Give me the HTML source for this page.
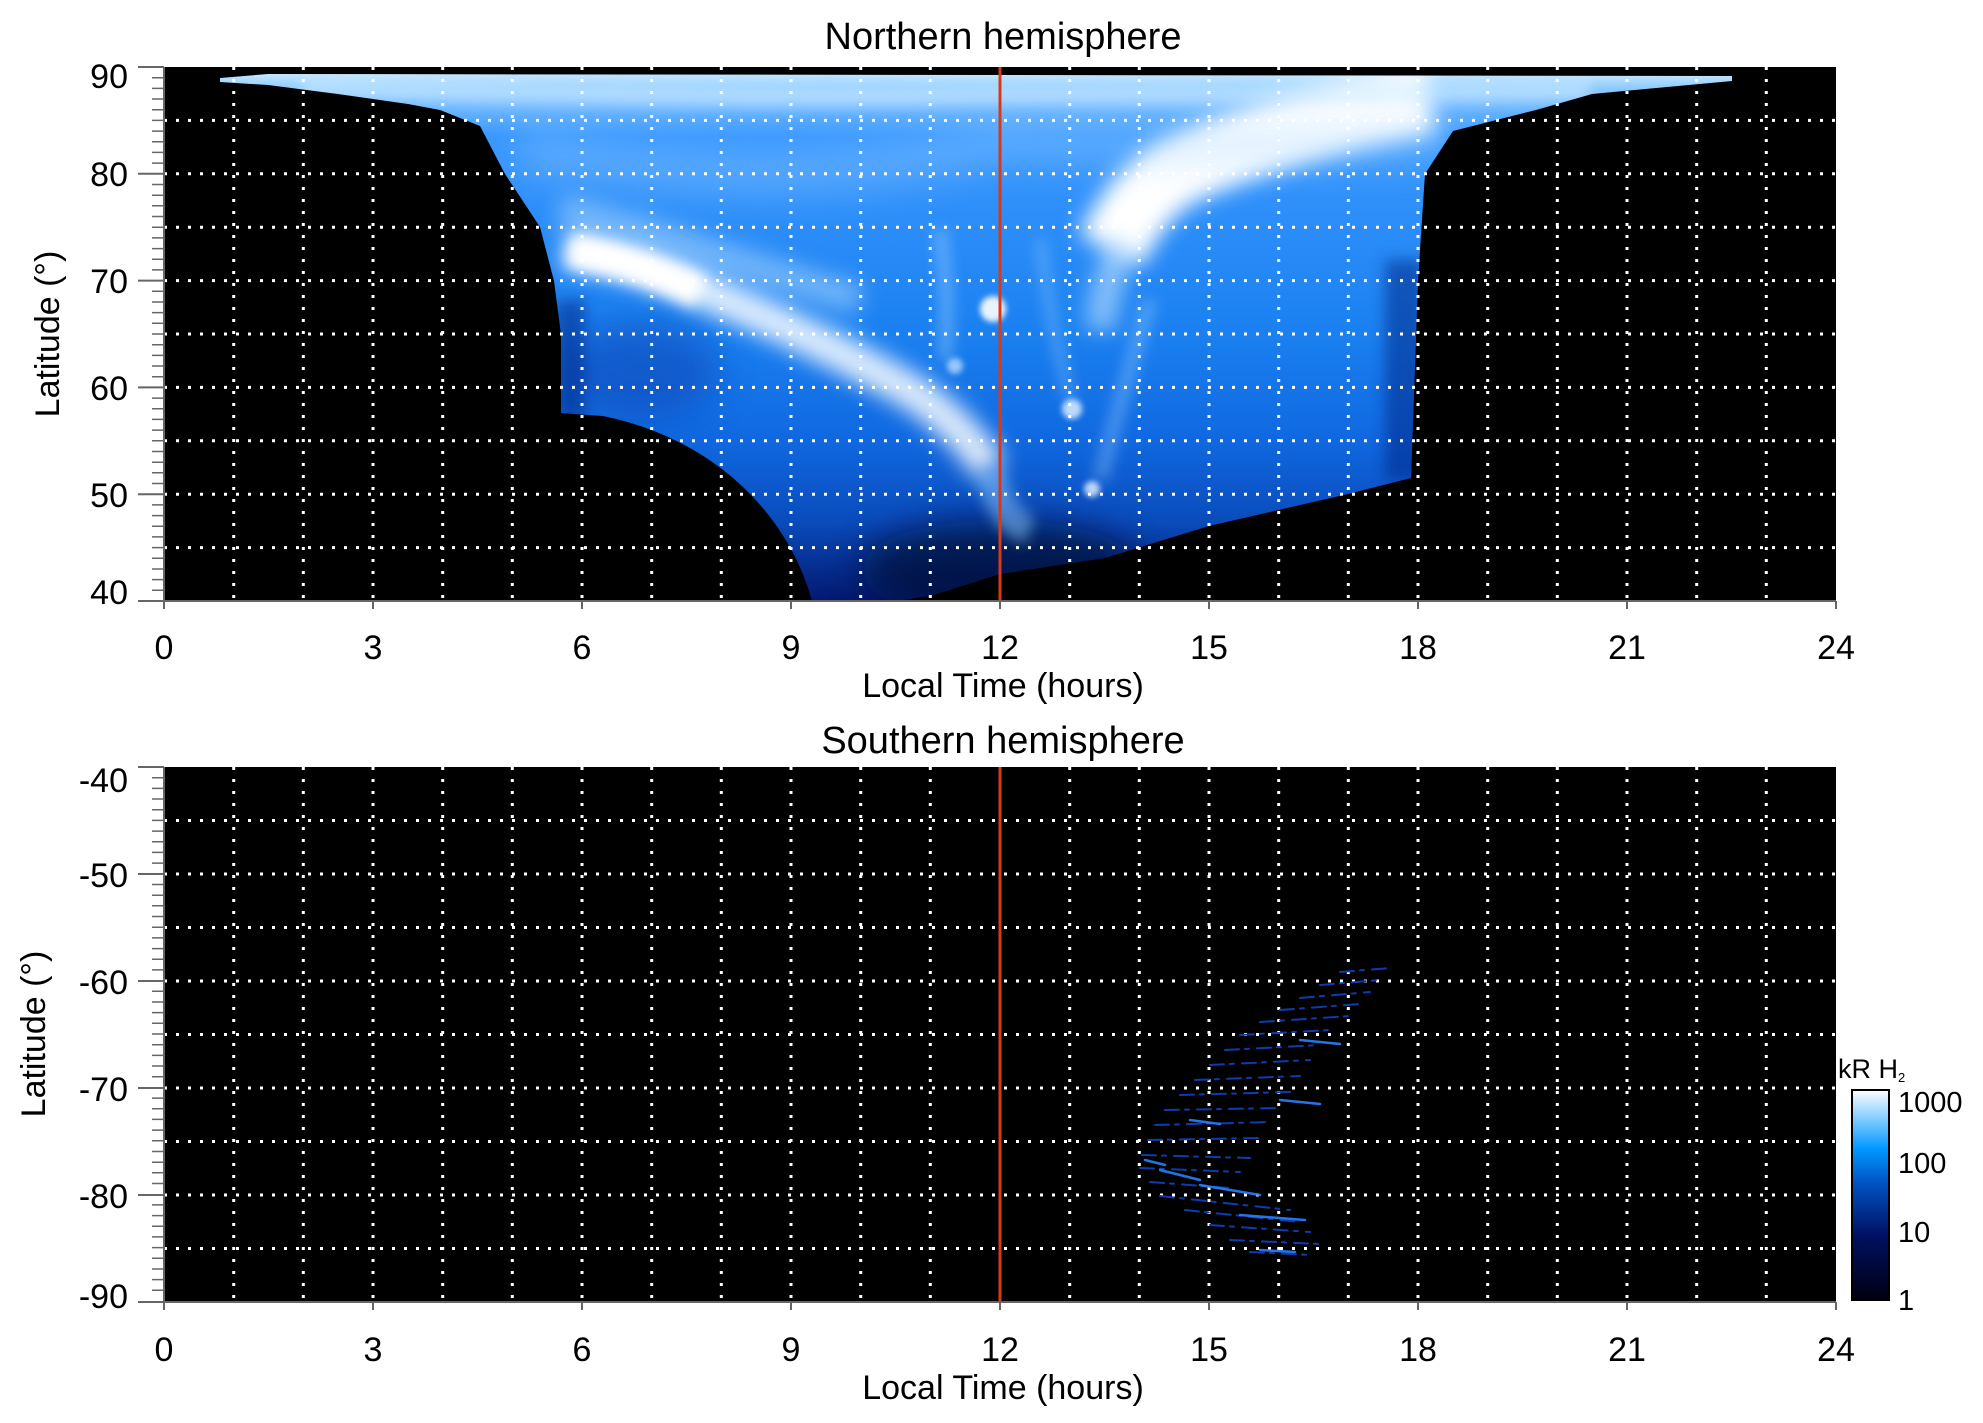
<!DOCTYPE html>
<html><head><meta charset="utf-8"><style>
html,body{margin:0;padding:0;background:#fff;}
svg{display:block;font-family:"Liberation Sans",Arial,sans-serif;}
</style></head><body>
<svg width="1983" height="1423" viewBox="0 0 1983 1423" xmlns="http://www.w3.org/2000/svg">
<defs>
<linearGradient id="baseN" gradientUnits="userSpaceOnUse" x1="0" y1="67" x2="0" y2="601">
<stop offset="0" stop-color="#e0f4ff"/>
<stop offset="0.04" stop-color="#8ccaff"/>
<stop offset="0.13" stop-color="#3a98ff"/>
<stop offset="0.5" stop-color="#1a80f0"/>
<stop offset="0.7" stop-color="#1068e0"/>
<stop offset="0.85" stop-color="#0a4cbc"/>
<stop offset="1" stop-color="#031870"/>
</linearGradient>
<linearGradient id="cb" x1="0" y1="1" x2="0" y2="0">
<stop offset="0" stop-color="#000010"/>
<stop offset="0.3" stop-color="#001060"/>
<stop offset="0.55" stop-color="#0050c0"/>
<stop offset="0.72" stop-color="#0098ff"/>
<stop offset="1" stop-color="#ffffff"/>
</linearGradient>
<filter id="b20" filterUnits="userSpaceOnUse" x="0" y="0" width="1983" height="1423"><feGaussianBlur stdDeviation="18"/></filter>
<filter id="b12" filterUnits="userSpaceOnUse" x="0" y="0" width="1983" height="1423"><feGaussianBlur stdDeviation="11"/></filter>
<filter id="b8" filterUnits="userSpaceOnUse" x="0" y="0" width="1983" height="1423"><feGaussianBlur stdDeviation="7"/></filter>
<filter id="b3" filterUnits="userSpaceOnUse" x="0" y="0" width="1983" height="1423"><feGaussianBlur stdDeviation="3"/></filter>
<clipPath id="cN"><path d="M220,78 L268,74 L1732,76 L1732,81 L1592,94 L1536,110 L1453,131 L1425,174 L1418,281 L1411,478 L1348,494 L1209,526 L1105,558 L1000,574 L930,596 L896,601 L812,601 C790,520 720,440 603,416 L561,413 L561,334 L554,281 L540,227 L505,174 L480,126 L440,110 L408,104 L338,94 L268,85 L220,82 Z"/></clipPath>
</defs>

<!-- Northern plot -->
<rect x="164" y="67" width="1672" height="534" fill="#000"/>
<g clip-path="url(#cN)">
<rect x="164" y="67" width="1672" height="534" fill="url(#baseN)"/>
<ellipse cx="1000" cy="570" rx="140" ry="50" fill="#000830" opacity="0.7" filter="url(#b20)"/>
<ellipse cx="640" cy="370" rx="80" ry="50" fill="#0840b0" opacity="0.5" filter="url(#b20)"/>
<path d="M560,210 Q640,230 700,250 T860,300" stroke="#bfe3ff" stroke-width="30" fill="none" opacity="0.5" filter="url(#b12)"/>
<path d="M565,250 Q640,262 700,290 Q800,330 900,385 Q960,420 990,470" stroke="#ffffff" stroke-width="36" fill="none" opacity="0.85" filter="url(#b12)"/>
<path d="M570,250 Q640,262 700,292" stroke="#ffffff" stroke-width="32" fill="none" filter="url(#b8)"/>
<path d="M990,470 Q1000,520 1030,530" stroke="#8fcaff" stroke-width="30" fill="none" opacity="0.5" filter="url(#b8)"/>
<path d="M1111,250 Q1140,190 1180,170 Q1280,125 1430,100" stroke="#ffffff" stroke-width="70" fill="none" filter="url(#b12)"/>
<path d="M1100,330 Q1105,280 1125,240" stroke="#cde9ff" stroke-width="30" fill="none" opacity="0.6" filter="url(#b12)"/>
<path d="M300,88 Q800,100 1000,95 Q1300,95 1590,90" stroke="#d0ecff" stroke-width="20" fill="none" opacity="0.6" filter="url(#b8)"/>
<path d="M520,150 Q800,200 1000,140 Q1200,150 1450,140" stroke="#a0d4ff" stroke-width="40" fill="none" opacity="0.35" filter="url(#b20)"/>
<circle cx="993" cy="309" r="13" fill="#fff" opacity="0.9" filter="url(#b3)"/>
<circle cx="1072" cy="409" r="10" fill="#eaf6ff" opacity="0.8" filter="url(#b3)"/>
<circle cx="1092" cy="489" r="8" fill="#eaf6ff" opacity="0.8" filter="url(#b3)"/>
<circle cx="955" cy="366" r="8" fill="#cfe8ff" opacity="0.7" filter="url(#b3)"/>
<path d="M940,230 Q950,300 945,360" stroke="#9fd0ff" stroke-width="12" fill="none" opacity="0.5" filter="url(#b8)"/>
<path d="M1040,240 Q1050,320 1070,400" stroke="#9fd0ff" stroke-width="10" fill="none" opacity="0.4" filter="url(#b8)"/>
<path d="M1150,300 Q1120,400 1100,480" stroke="#9fd0ff" stroke-width="14" fill="none" opacity="0.4" filter="url(#b8)"/>
<rect x="1385" y="260" width="40" height="220" fill="#002080" opacity="0.5" filter="url(#b8)"/>
<rect x="555" y="300" width="30" height="120" fill="#002080" opacity="0.5" filter="url(#b8)"/>
</g>
<g stroke="#fff" stroke-width="3" stroke-dasharray="3 9" fill="none">
<path d="M164,120.4H1836M164,173.8H1836M164,227.2H1836M164,280.6H1836M164,334H1836M164,387.4H1836M164,440.8H1836M164,494.2H1836M164,547.6H1836"/>
<path d="M233.7,67V601M303.3,67V601M373,67V601M442.7,67V601M512.3,67V601M582,67V601M651.7,67V601M721.3,67V601M791,67V601M860.7,67V601M930.3,67V601M1069.7,67V601M1139.3,67V601M1209,67V601M1278.7,67V601M1348.3,67V601M1418,67V601M1487.7,67V601M1557.3,67V601M1627,67V601M1696.7,67V601M1766.3,67V601"/>
</g>
<line x1="1000" y1="67" x2="1000" y2="601" stroke="#d83a18" stroke-width="3"/>

<!-- Southern plot -->
<rect x="164" y="767" width="1672" height="535" fill="#000"/>
<g stroke="#fff" stroke-width="3" stroke-dasharray="3 9" fill="none">
<path d="M164,820.5H1836M164,874H1836M164,927.5H1836M164,981H1836M164,1034.5H1836M164,1088H1836M164,1141.5H1836M164,1195H1836M164,1248.5H1836"/>
<path d="M233.7,767V1302M303.3,767V1302M373,767V1302M442.7,767V1302M512.3,767V1302M582,767V1302M651.7,767V1302M721.3,767V1302M791,767V1302M860.7,767V1302M930.3,767V1302M1069.7,767V1302M1139.3,767V1302M1209,767V1302M1278.7,767V1302M1348.3,767V1302M1418,767V1302M1487.7,767V1302M1557.3,767V1302M1627,767V1302M1696.7,767V1302M1766.3,767V1302"/>
</g>
<g stroke="#0c3cb0" stroke-width="2" fill="none" stroke-linecap="round" stroke-dasharray="14 6 4 8">
<path d="M1340,972L1390,968M1320,985L1380,980M1300,998L1370,992M1280,1010L1360,1004M1260,1022L1350,1016M1240,1035L1330,1030M1225,1050L1320,1045M1210,1065L1310,1060M1195,1080L1300,1076M1180,1095L1290,1092M1165,1110L1280,1108M1155,1125L1270,1122M1148,1140L1260,1138M1142,1155L1250,1158M1140,1168L1240,1172M1150,1182L1230,1188M1160,1196L1290,1210M1185,1210L1300,1222M1210,1225L1310,1232M1230,1240L1320,1244M1250,1252L1310,1255"/>
</g>
<g stroke="#2a80ff" stroke-width="2.5" fill="none" stroke-linecap="round" opacity="0.9">
<path d="M1160,1170L1200,1180M1200,1185L1260,1195M1240,1215L1305,1220M1280,1100L1320,1104M1300,1040L1340,1044M1190,1120L1220,1124M1145,1160L1165,1165M1260,1250L1295,1252"/>
</g>
<line x1="1000" y1="767" x2="1000" y2="1302" stroke="#d83a18" stroke-width="3"/>

<!-- axes ticks -->
<g stroke="#666" stroke-width="2">
<path d="M164,67V601M164,601H1836M164,767V1302M164,1302H1836"/>
<path d="M138,67H164M138,173.8H164M138,280.6H164M138,387.4H164M138,494.2H164M138,601H164"/>
<path d="M138,767H164M138,874H164M138,981H164M138,1088H164M138,1195H164M138,1302H164"/>
<path d="M164,601v8M373,601v8M582,601v8M791,601v8M1000,601v8M1209,601v8M1418,601v8M1627,601v8M1836,601v8"/>
<path d="M164,1302v8M373,1302v8M582,1302v8M791,1302v8M1000,1302v8M1209,1302v8M1418,1302v8M1627,1302v8M1836,1302v8"/>
</g>
<g stroke="#666" stroke-width="1.5" id="mt">
<path d="M152,77.7H164M152,88.4H164M152,99H164M152,109.7H164M152,131.1H164M152,141.8H164M152,152.4H164M152,163.1H164M152,184.5H164M152,195.2H164M152,205.8H164M152,216.5H164M152,237.9H164M152,248.6H164M152,259.2H164M152,269.9H164M152,291.3H164M152,302H164M152,312.6H164M152,323.3H164M152,344.7H164M152,355.4H164M152,366H164M152,376.7H164M152,398.1H164M152,408.8H164M152,419.4H164M152,430.1H164M152,451.5H164M152,462.2H164M152,472.8H164M152,483.5H164M152,504.9H164M152,515.6H164M152,526.2H164M152,536.9H164M152,558.3H164M152,569H164M152,579.6H164M152,590.3H164M152,120.4H164M152,227.2H164M152,334H164M152,440.8H164M152,547.6H164"/>
</g>
<use href="#mt" transform="translate(0,700)"/>

<!-- labels -->
<g font-size="34" fill="#000" text-anchor="end">
<text x="128" y="88">90</text><text x="128" y="186">80</text><text x="128" y="293">70</text><text x="128" y="400">60</text><text x="128" y="507">50</text><text x="128" y="604">40</text>
<text x="128" y="792">-40</text><text x="128" y="887">-50</text><text x="128" y="994">-60</text><text x="128" y="1101">-70</text><text x="128" y="1208">-80</text><text x="128" y="1308">-90</text>
</g>
<g font-size="34" fill="#000" text-anchor="middle">
<text x="164" y="659">0</text><text x="373" y="659">3</text><text x="582" y="659">6</text><text x="791" y="659">9</text><text x="1000" y="659">12</text><text x="1209" y="659">15</text><text x="1418" y="659">18</text><text x="1627" y="659">21</text><text x="1836" y="659">24</text>
<text x="164" y="1361">0</text><text x="373" y="1361">3</text><text x="582" y="1361">6</text><text x="791" y="1361">9</text><text x="1000" y="1361">12</text><text x="1209" y="1361">15</text><text x="1418" y="1361">18</text><text x="1627" y="1361">21</text><text x="1836" y="1361">24</text>
<text x="1003" y="49" font-size="38">Northern hemisphere</text>
<text x="1003" y="753" font-size="38">Southern hemisphere</text>
<text x="1003" y="697" font-size="34">Local Time (hours)</text>
<text x="1003" y="1399" font-size="34">Local Time (hours)</text>
<text transform="translate(59,334) rotate(-90)" font-size="34">Latitude (°)</text>
<text transform="translate(45,1034) rotate(-90)" font-size="34">Latitude (°)</text>
</g>

<!-- colorbar -->
<rect x="1852" y="1090" width="37" height="210" fill="url(#cb)" stroke="#000" stroke-width="2"/>
<text x="1838" y="1078" font-size="27">kR H<tspan font-size="13" dy="4">2</tspan></text>
<g font-size="29">
<text x="1898" y="1112">1000</text><text x="1898" y="1173">100</text><text x="1898" y="1242">10</text><text x="1898" y="1310">1</text>
</g>
</svg>
</body></html>
